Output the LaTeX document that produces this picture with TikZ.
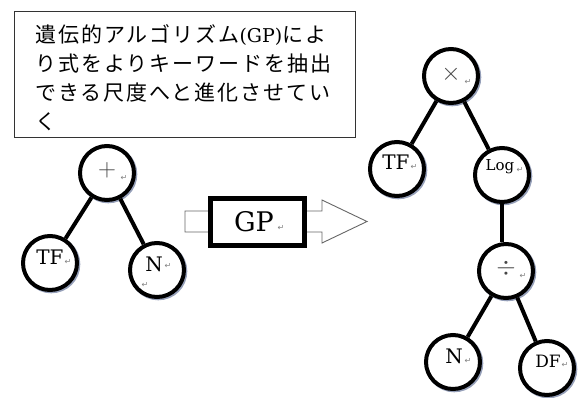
\documentclass[tikz,border=0pt]{standalone}
\usepackage{fontspec}
\newfontfamily\jp[LetterSpace=9.5]{Noto Sans CJK JP}
\newfontfamily\symf{DejaVu Sans}
\newfontfamily\labf{DejaVu Serif}
\definecolor{shadowc}{RGB}{150,160,185}
\definecolor{opc}{RGB}{70,70,70}
\begin{document}
\begin{tikzpicture}[x=1pt,y=-1pt,
  tnode/.style={circle, draw=black, line width=4pt, minimum size=54pt, inner sep=0pt, fill=white,
    preaction={draw=shadowc, line width=4pt, transform canvas={xshift=1.3pt,yshift=-1.3pt}}},
  tedge/.style={line width=4pt},
  lab/.style={inner sep=0pt, font=\labf\fontsize{20}{20}\selectfont},
  oplab/.style={inner sep=0pt, text=opc, font=\fontsize{28}{28}\selectfont},
  ret/.style={inner sep=0pt, text=black!50, font=\symf\fontsize{8}{8}\selectfont},
  jline/.style={inner sep=0pt, anchor=base west, font=\jp\fontsize{21}{21}\selectfont},
]
\useasboundingbox (0,0) rectangle (581,397);

% text box
\node[draw=black!80, line width=0.8pt, minimum width=341pt, minimum height=126pt, inner sep=0pt] (tbox) at (184.5,74) {};
\node[jline] (l1) at (35,42.5) {遺伝的アルゴリズム{\labf\fontsize{19}{19}\selectfont (GP)}によ};
\node[jline] (l2) at (35,71.5) {り式をよりキーワードを抽出};
\node[jline] (l3) at (35,100.5) {できる尺度へと進化させてい};
\node[jline] (l4) at (35,129.5) {く};

% left tree
\node[tnode] (plus) at (107,173) {};
\node[tnode] (tfL) at (50,263) {};
\node[tnode] (nL) at (157,270) {};
\draw[tedge] (plus) -- (tfL);
\draw[tedge] (plus) -- (nL);
\node[oplab] (plust) at (107,170) {$+$};
\node[ret] (plusr) at (124,178) {↵};
\node[lab] (tfLt) at (50,257) {TF};
\node[ret] (tfLr) at (68,262) {↵};
\node[lab] (nLt) at (154,264) {N};
\node[ret] (nLr) at (168,266) {↵};
\node[ret] (nLr2) at (145,285) {↵};

% GP arrow
\draw[draw=black!60, line width=0.9pt, fill=white]
  (185,211) -- (322,211) -- (322,200) -- (367,221.5) -- (322,243) -- (322,232) -- (185,232) -- cycle;
\node[draw=black, line width=4.5pt, fill=white, minimum width=94.5pt, minimum height=47.5pt, inner sep=0pt] (gpbox) at (257.5,222) {};
\draw[line width=0.8pt] ([shift={(4.75,4.75)}]gpbox.north west) rectangle ([shift={(-4.75,-4.75)}]gpbox.south east);
\node[inner sep=0pt, font=\labf\fontsize{27}{27}\selectfont] (gpt) at (254,222) {GP};
\node[ret] (gpr) at (281,228) {↵};

% right tree
\node[tnode] (times) at (451,76) {};
\node[tnode] (tfR) at (397,169) {};
\node[tnode] (logR) at (502,175) {};
\node[tnode] (divR) at (506,271) {};
\node[tnode] (nR) at (453,362) {};
\node[tnode] (dfR) at (547,368) {};
\draw[tedge] (times) -- (tfR);
\draw[tedge] (times) -- (logR);
\draw[tedge] (logR.south) -- (logR.south |- divR.north);
\draw[tedge] (divR) -- (nR);
\draw[tedge] (divR) -- (dfR);
\node[oplab] (timest) at (451,74) {$\times$};
\node[ret] (timesr) at (468,82) {↵};
\node[lab] (tfRt) at (396,162) {TF};
\node[ret] (tfRr) at (414,167) {↵};
\node[lab, font=\labf\fontsize{15}{15}\selectfont] (logRt) at (500,167) {Log};
\node[ret] (logRr) at (520,170) {↵};
\node[oplab] (divt) at (506,268) {$\div$};
\node[ret] (divr) at (523,276) {↵};
\node[lab] (nRt) at (454,356) {N};
\node[ret] (nRr) at (468,361) {↵};
\node[lab, font=\labf\fontsize{17}{17}\selectfont] (dfRt) at (548,361) {DF};
\node[ret] (dfRr) at (565,365) {↵};
\end{tikzpicture}
\end{document}
